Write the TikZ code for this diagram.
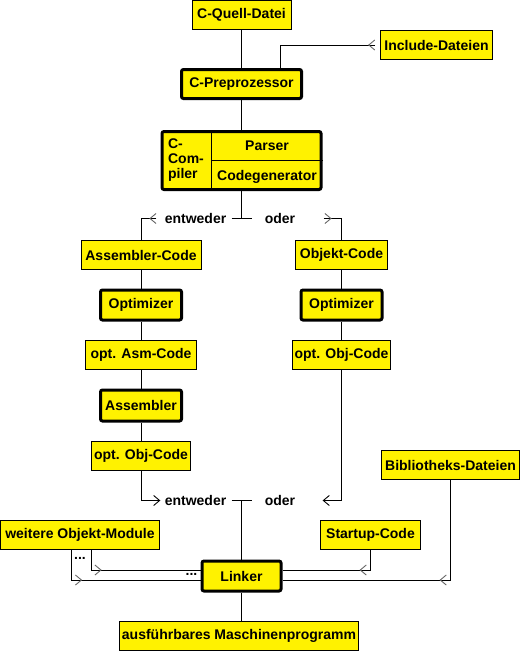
\documentclass[tikz,border=0pt]{standalone}
\usepackage{fontspec}
\setmainfont{Liberation Sans}
\usetikzlibrary{arrows.meta,decorations.markings}

\begin{document}
\begin{tikzpicture}[x=1pt,y=-1pt,line width=0.9pt,
   every node/.style={font=\bfseries\fontsize{14}{15}\selectfont},
   >={Straight Barb[length=6pt,width=10pt]},
   datei/.style={draw,fill=yellow,inner sep=0pt,minimum height=29pt},
   prog/.style={draw,fill=yellow,line width=3pt,rounded corners=2pt,inner sep=0pt,minimum height=29pt},
   wort/.style={inner sep=0pt},
   weg/.style={postaction={decorate},decoration={markings,
      mark=at position #1 with {\arrow[black!60]{>}}}}]
\useasboundingbox (0,0) rectangle (522,651);

\node[datei,minimum width=99pt] (quelle) at (241.5,15) {C-Quell-Datei};
\node[datei,minimum width=112pt] (include) at (436.5,45) {Include-Dateien};
\node[prog,minimum width=120pt] (prepro) at (241.5,84) {C-Preprozessor};
\node[prog,minimum width=159pt,minimum height=58pt] (compiler) at (241.5,160.5) {};
\node[wort,align=left] (cname) at (186,160.5) {C-\\Com-\\piler};
\node[wort] (parser) at (267,146) {Parser};
\node[wort] (codegen) at (267,176.5) {Codegenerator};

\node[wort] (entweder1) at (195.5,218.5) {entweder};
\node[wort] (oder1) at (280,218.5) {oder};
\coordinate (gabel1) at (241.5,218.5);

\node[datei,minimum width=120pt] (asm) at (141,255) {Assembler-Code};
\node[prog,minimum width=81pt,minimum height=30pt] (opt1) at (141,305) {Optimizer};
\node[datei,minimum width=111pt] (optasm) at (141,355) {opt. Asm-Code};
\node[prog,minimum width=81pt,minimum height=31pt] (assembler) at (141,405.5) {Assembler};
\node[datei,minimum width=99pt] (optobj1) at (141,455.5) {opt. Obj-Code};

\node[datei,minimum width=92pt] (obj) at (341.5,255) {Objekt-Code};
\node[prog,minimum width=81pt,minimum height=30pt] (opt2) at (341.5,305) {Optimizer};
\node[datei,minimum width=98pt] (optobj2) at (341.5,355) {opt. Obj-Code};

\node[wort] (entweder2) at (195.5,500.5) {entweder};
\node[wort] (oder2) at (280,500.5) {oder};
\coordinate (gabel2) at (241.5,500.5);

\node[datei,minimum width=159pt] (weitere) at (80,535) {weitere Objekt-Module};
\node[datei,minimum width=100pt] (startup) at (370.5,535) {Startup-Code};
\node[datei,minimum width=138pt] (biblio) at (450.5,465) {Bibliotheks-Dateien};
\node[prog,minimum width=79pt,minimum height=30pt] (linker) at (241.5,576) {Linker};
\node[datei,minimum width=239pt] (exe) at (239,635.5) {ausführbares Maschinenprogramm};
\node[wort] (punkte1) at (80,558) {...};
\node[wort] (punkte2) at (191.5,574) {...};

\draw (quelle) -- (prepro);
\draw[weg=7pt] ([xshift=-5pt]include.west) -| ([xshift=38.5pt]prepro.north);
\draw (prepro) -- (compiler);
\draw ([xshift=50.5pt]compiler.north west) -- ([xshift=50.5pt]compiler.south west);
\draw ([xshift=50.5pt]compiler.west) -- (compiler.east);

\draw (compiler.south) -- (gabel1);
\draw ([xshift=-10pt]gabel1) -- ([xshift=10pt]gabel1);
\draw[weg=7pt] ([xshift=-8pt]entweder1.west) -| (asm.north);
\draw[weg=8pt] ([xshift=28pt]oder1.east) -| (obj.north);

\draw (asm) -- (opt1) -- (optasm) -- (assembler) -- (optobj1);
\draw (obj) -- (opt2) -- (optobj2);

\draw[->] (optobj1.south) |- ([xshift=-4pt]entweder2.west);
\draw[->] (optobj2.south) |- ([xshift=27pt]oder2.east);
\draw ([xshift=-10pt]gabel2) -- ([xshift=10pt]gabel2);
\draw (gabel2) -- (linker.north);

\draw[weg=30pt] ([xshift=11.7pt]weitere.south) |- ([yshift=6pt]linker.west);
\draw[weg=40.5pt] ([xshift=-8.3pt]weitere.south) |- ([yshift=-4pt]linker.west);
\draw[weg=31pt] (startup.south) |- ([yshift=6pt]linker.east);
\draw[weg=111pt] (biblio.south) |- ([yshift=-4pt]linker.east);
\draw (linker.south) -- (linker.south |- exe.north);
\end{tikzpicture}
\end{document}
